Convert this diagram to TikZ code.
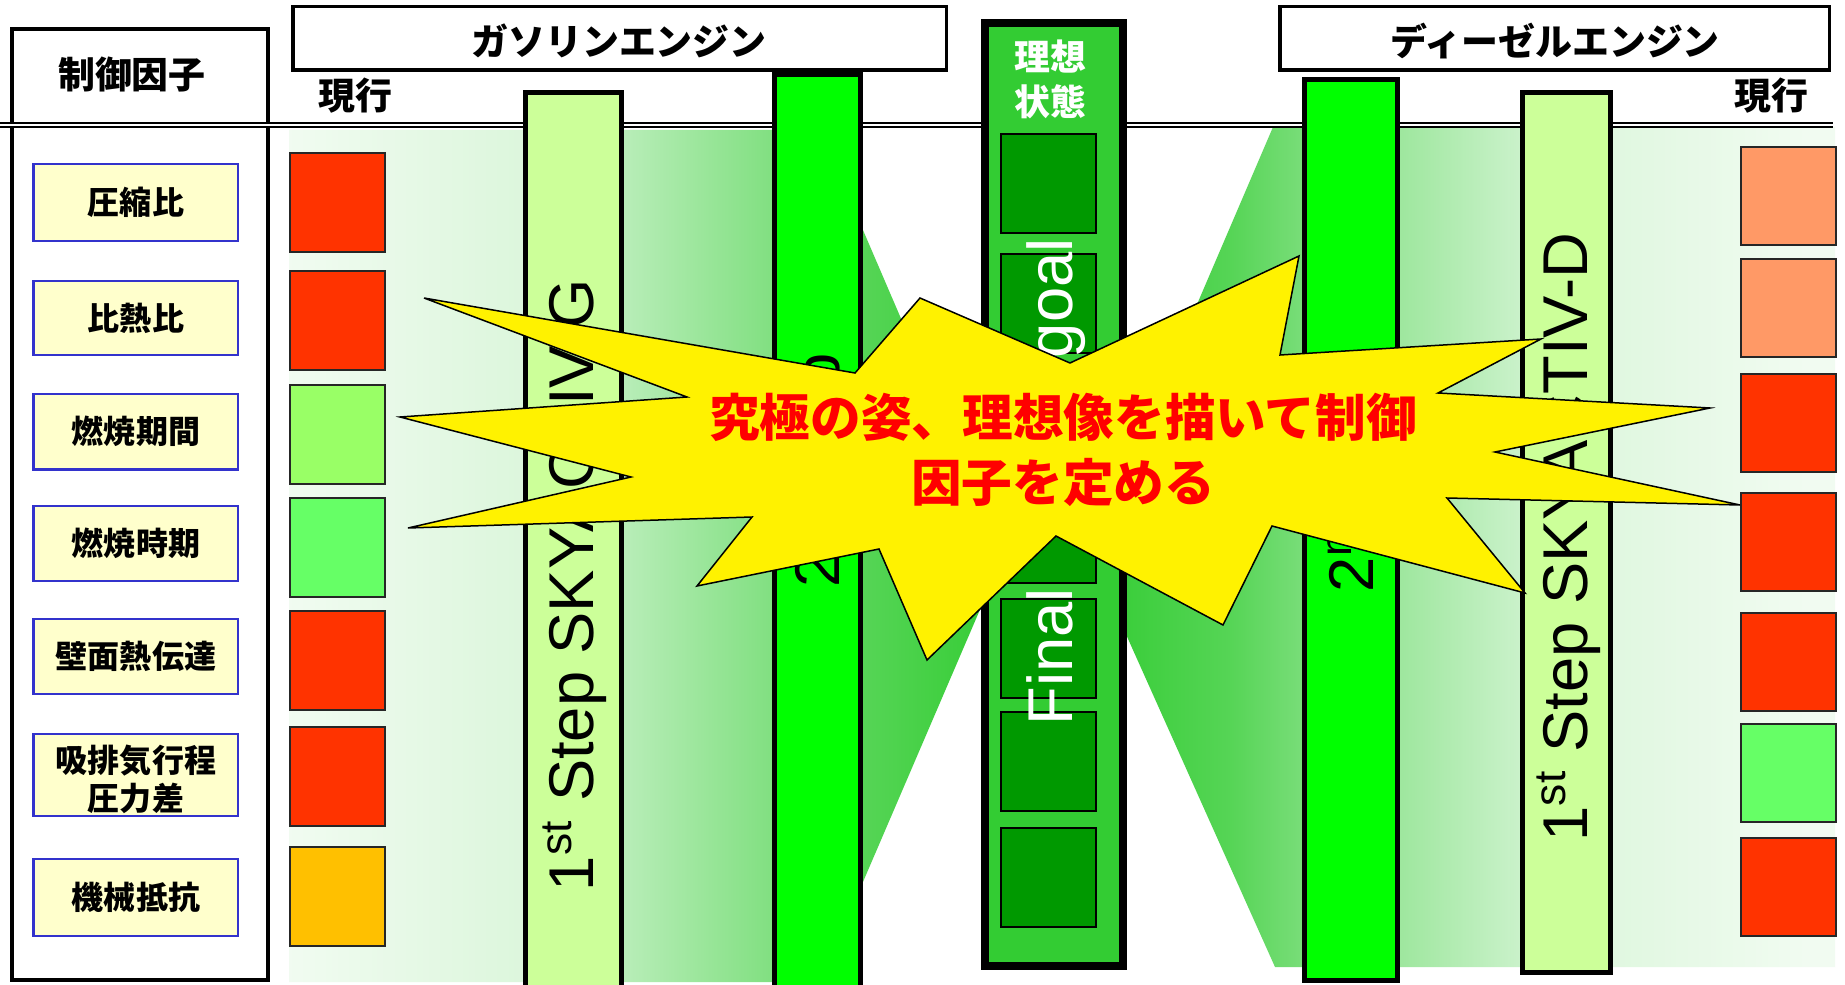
\documentclass[tikz,border=0pt]{standalone}
\usepackage{fontspec}
\setmainfont{Liberation Sans}
\newfontfamily\jp{Noto Sans CJK JP}
\definecolor{redsq}{RGB}{255,51,0}
\definecolor{salmon}{RGB}{255,153,102}
\definecolor{lgreen}{RGB}{153,255,102}
\definecolor{mgreen}{RGB}{102,255,102}
\definecolor{orangesq}{RGB}{255,192,0}
\definecolor{paleyel}{RGB}{255,255,204}
\definecolor{boxblue}{RGB}{51,51,204}
\definecolor{stepone}{RGB}{204,255,153}
\definecolor{steptwo}{RGB}{0,255,0}
\definecolor{goalbar}{RGB}{51,204,51}
\definecolor{goalsq}{RGB}{0,153,0}
\definecolor{gr}{RGB}{51,204,51}
\colorlet{ga}{gr!7!white}
\colorlet{gb}{gr!17!white}
\colorlet{gc}{gr!35!white}
\colorlet{gd}{gr!62!white}
\colorlet{ge}{gr!83!white}
\pgfdeclarehorizontalshading{lgrad}{100bp}{color(0bp)=(ga); color(25bp)=(ga); color(41.3bp)=(gb); color(48.5bp)=(gc); color(58.9bp)=(gd); color(65.2bp)=(ge); color(75bp)=(gr); color(100bp)=(gr)}
\pgfdeclarehorizontalshading{rgrad}{100bp}{color(0bp)=(gr); color(25bp)=(gr); color(34.4bp)=(ge); color(40.4bp)=(gd); color(50.4bp)=(gc); color(57.3bp)=(gb); color(72.9bp)=(ga); color(100bp)=(ga)}
\tikzset{
  head/.style={inner sep=0pt, font=\jp\bfseries\fontsize{10.5}{12}\selectfont},
  lbl/.style={inner sep=0pt, align=center, font=\jp\bfseries\fontsize{9.1}{10.8}\selectfont},
  bartxt/.style={inner sep=0pt, rotate=90, font=\fontsize{18}{20}\selectfont},
  fbox/.style={draw=boxblue, fill=paleyel, line width=0.022cm},
  sq/.style={draw=black!85, line width=0.02cm},
  barline/.style={draw=black, line width=0.05cm},
  hbox/.style={draw=black, fill=white, line width=0.035cm},
}
\begin{document}
\begin{tikzpicture}[x=0.01cm, y=-0.01cm]
\useasboundingbox (0,0) rectangle (1845,985);
\clip (0,0) rectangle (1845,985);
\fill[white] (0,0) rectangle (1845,985);
% gradient areas
\shade[shading=lgrad] (289,130) -- (820,130) -- (1003,556) -- (820,982) -- (289,982) -- cycle;
\shade[shading=rgrad] (1273,127) -- (1835,127) -- (1835,967) -- (1275,967) -- (1090,554) -- cycle;
% left frame
\draw[line width=0.036cm] (12,29) rectangle (268,980);
% double rule
\draw[line width=0.023cm, double=white, double distance=0.017cm] (0,124.8) -- (1833,124.8);
% factor boxes
\foreach \t/\b in {164/241,281/355,394/469.5,506/581,619/694,734/816,859/936}
  {\draw[fbox] (33.5,\t) rectangle (238,\b);}
% current squares left
\foreach \t/\c in {153/redsq,271/redsq,385/lgreen,498/mgreen,611/redsq,727/redsq,847/orangesq}
  {\draw[sq, fill=\c] (290,\t) rectangle (385,{\t+99});}
% current squares right
\foreach \t/\c in {147/salmon,259/salmon,374/redsq,493/redsq,613/redsq,724/mgreen,838/redsq}
  {\draw[sq, fill=\c] (1741,\t) rectangle (1836,{\t+98});}
% bars
\draw[barline, fill=steptwo] (774.5,74.5) rectangle (860.5,995);
\draw[barline, fill=stepone] (525.5,92.5) rectangle (621.5,995);
\draw[barline, fill=steptwo] (1304.5,79.5) rectangle (1397.5,980.5);
\draw[barline, fill=stepone] (1522.5,92.5) rectangle (1610.5,972.5);
% ideal state bar
\draw[line width=0.08cm, fill=goalbar] (985,23) rectangle (1123,966);
\foreach \t in {134,254,369,484,599,712,828}
  {\draw[sq, draw=black, fill=goalsq] (1001,\t) rectangle (1096,{\t+99});}
% header boxes
\draw[hbox] (292.75,6.75) rectangle (946.25,70.25);
\draw[hbox] (1279.75,6.75) rectangle (1829.25,70.25);
% bar texts
\node[bartxt] (s1g) at (575,585) {1\textsuperscript{st} Step SKYACTIV-G};
\node[bartxt] (s2g) at (819,470) {2\textsuperscript{nd} Step};
\node[bartxt, text=white] (fg) at (1056,482) {Final\hspace{2.3cm}goal};
\node[bartxt] (s2d) at (1353,475) {2\textsuperscript{nd} Step};
\node[bartxt] (s1d) at (1569,537) {1\textsuperscript{st} Step SKYACTIV-D};
% starburst
\draw[fill=yellow, line width=0.015cm, line join=miter]
  (424,298) -- (855,373) -- (920,298) -- (1070,363) -- (1299,256) -- (1280,355)
  -- (1541,339) -- (1438,393) -- (1710,408) -- (1495,452) -- (1740,505) -- (1447,498)
  -- (1525,593) -- (1272,526) -- (1223,625) -- (1056,536) -- (927,660) -- (879,549)
  -- (697,586) -- (752,517) -- (408,528) -- (631,477) -- (400,417) -- (687,397) -- cycle;
\node[inner sep=0pt, align=center, text=red, font=\jp\bfseries\fontsize{14.4}{18.5}\selectfont]
  (msg) at (1063,450) {究極の姿、理想像を描いて制御\\因子を定める};
% headings
\node[head] (ctrl) at (132,74.5) {制御因子};
\node[head] (curL) at (355.5,96) {現行};
\node[head] (curR) at (1771,96) {現行};
\node[head] (gas) at (619,41) {ガソリンエンジン};
\node[head] (dsl) at (1555,41) {ディーゼルエンジン};
\node[inner sep=0pt, align=center, text=white, font=\jp\bfseries\fontsize{10.2}{12.8}\selectfont]
  (ideal) at (1050,79.5) {理想\\状態};
% factor labels
\node[lbl] (f1) at (136,202.5) {圧縮比};
\node[lbl] (f2) at (136,318) {比熱比};
\node[lbl] (f3) at (136,431.75) {燃焼期間};
\node[lbl] (f4) at (136,543.5) {燃焼時期};
\node[lbl] (f5) at (136,656.5) {壁面熱伝達};
\node[lbl] (f6) at (136,779) {吸排気行程\\圧力差};
\node[lbl] (f7) at (136,897.5) {機械抵抗};
\end{tikzpicture}
\end{document}
